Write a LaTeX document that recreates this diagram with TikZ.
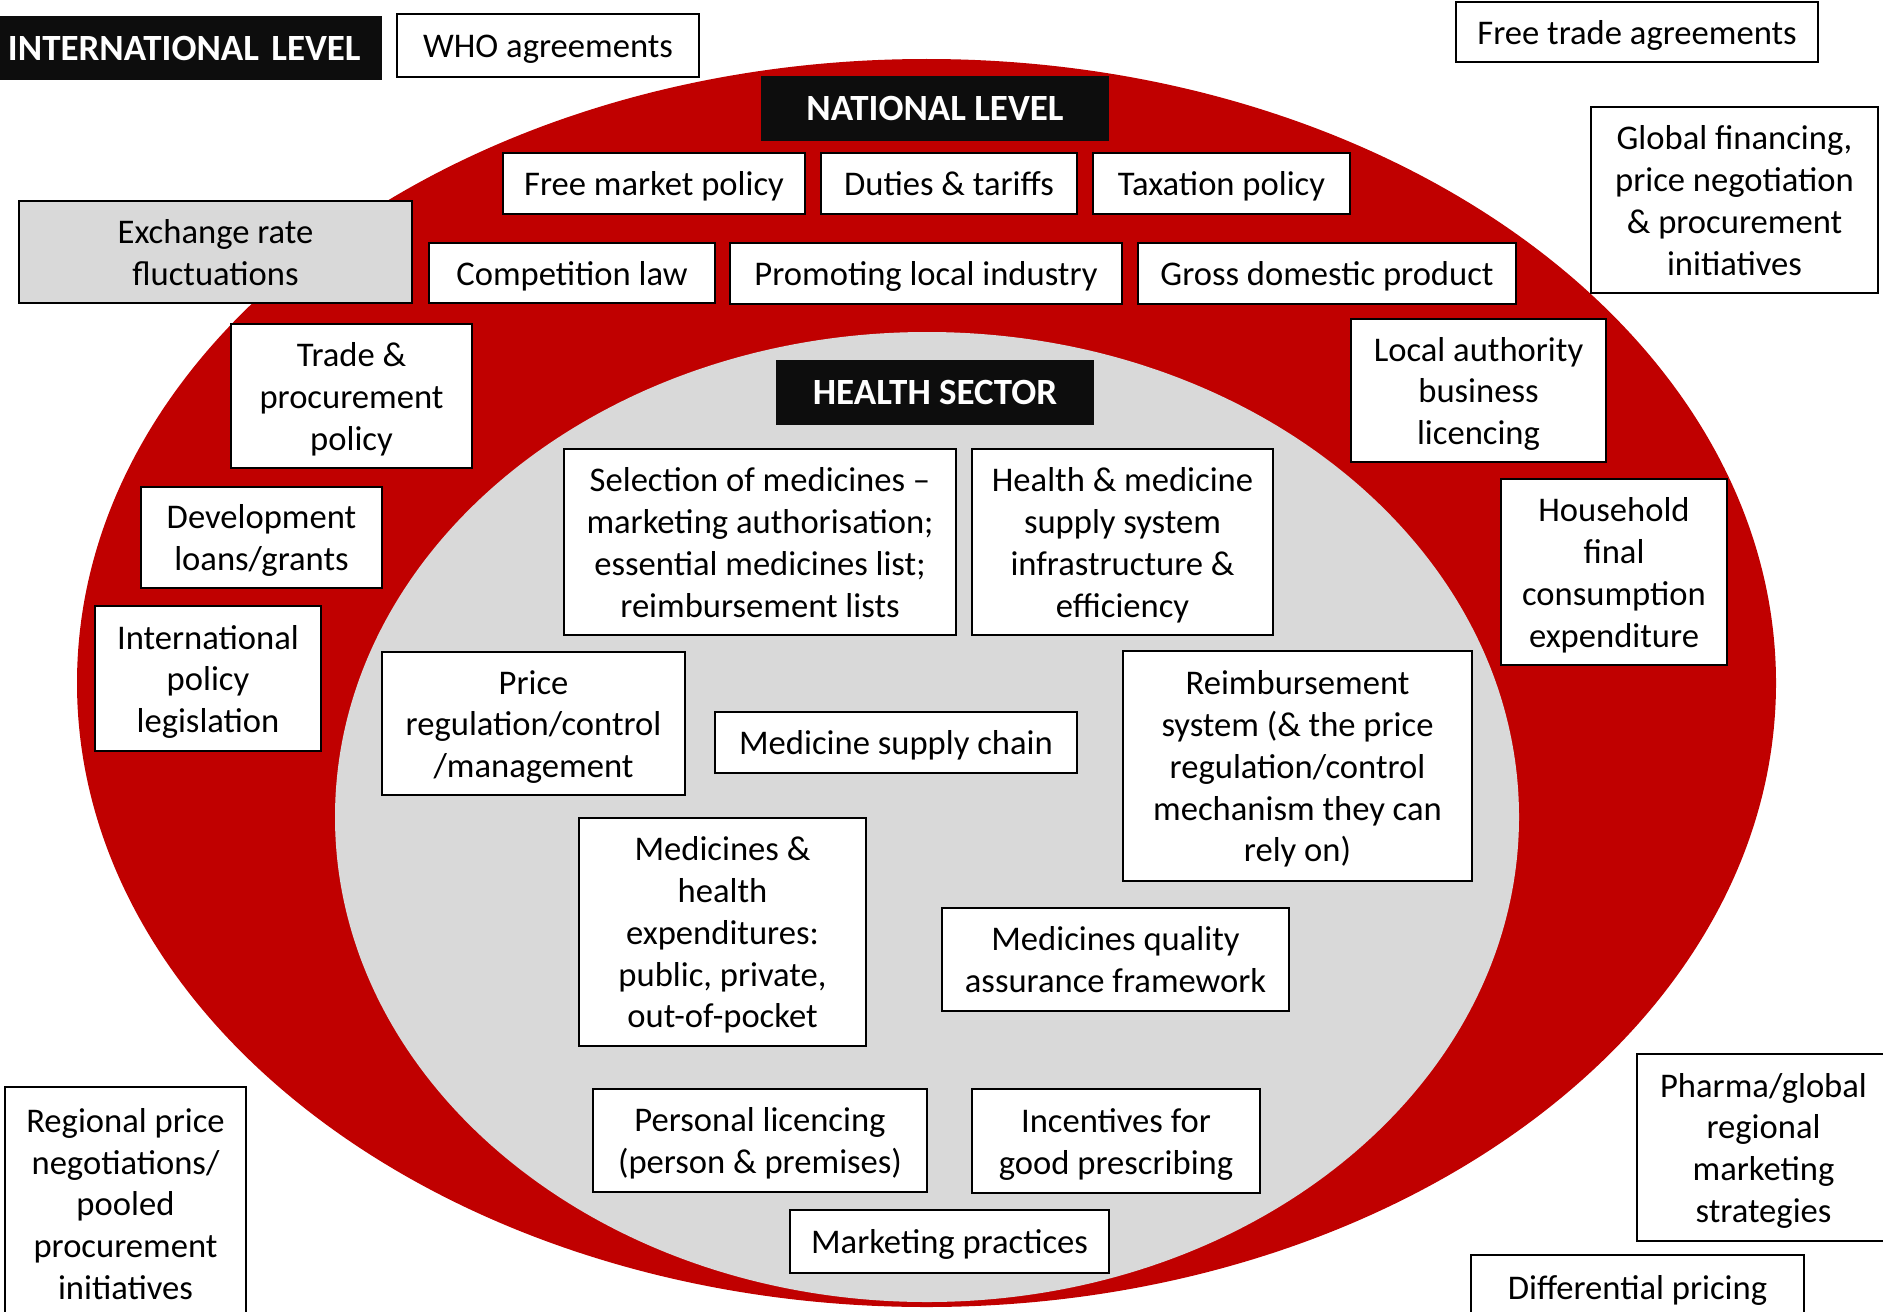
\documentclass[tikz,border=0pt]{standalone}
\usepackage{fontspec}
\setmainfont{Carlito}
\definecolor{dred}{HTML}{C00000}
\definecolor{lgrey}{HTML}{D9D9D9}
\definecolor{nblack}{HTML}{0D0D0D}
\tikzset{
  box/.style={draw=black, line width=1pt, fill=white, align=center, inner sep=0pt,
    font=\fontsize{17.3}{20.9}\selectfont},
  greybox/.style={box, fill=lgrey},
  headbox/.style={fill=nblack, text=white, align=center, inner sep=0pt,
    font=\fontsize{18.5}{22}\selectfont\bfseries},
}
\newcommand\topstr{\rule{0pt}{16.6pt}}
\newcommand\botstr{\rule[-4.3pt]{0pt}{4.3pt}}
\newcommand\htopstr{\rule{0pt}{17.2pt}}
\newcommand\hbotstr{\rule[-4.8pt]{0pt}{4.8pt}}
% #1 style, #2 name, #3 cx, #4 cy, #5 w, #6 h, #7 text (all in px of the reference)
\newcommand\pbox[7]{%
  \node[#1, minimum width=#5*0.5pt, minimum height=#6*0.5pt] (#2) at (#3,#4) {\topstr #7\botstr};}
\newcommand\headnode[6]{%
  \node[headbox, minimum width=#4*0.5pt, minimum height=#5*0.5pt] (#1) at (#2,#3) {\htopstr #6\hbotstr};}
\begin{document}
\begin{tikzpicture}[x=0.5pt,y=-0.5pt]
\useasboundingbox (0,0) rectangle (1883,1311);
\clip (0,0) rectangle (1883,1311);
\fill[white] (0,0) rectangle (1883,1311);
% ellipses
\fill[dred] (926.5,683) ellipse [x radius=849.5, y radius=624];
\fill[lgrey] (927,817) ellipse [x radius=592, y radius=485];
% headers
\node[headbox, align=left, text width=366*0.5pt, inner xsep=4pt, minimum height=32pt] (intl) at (191,48) {\rule{0pt}{17.6pt}INTERNATIONAL LEVEL\hbotstr};
\headnode{nat}{935}{108.5}{348}{65}{NATIONAL LEVEL}
\headnode{hs}{935}{392.5}{318}{65}{HEALTH SECTOR}
% international level
\pbox{box}{who}{548}{45.5}{302}{63}{WHO agreements}
\pbox{box}{fta}{1637}{32}{362}{60}{Free trade agreements}
\pbox{box}{glob}{1734.5}{200}{287}{186}{Global financing,\\price negotiation\\\& procurement\\initiatives}
\pbox{greybox}{exch}{215.5}{252}{393}{102}{Exchange rate\\fluctuations}
\pbox{box}{reg}{125.5}{1203.5}{241}{233}{Regional price\\negotiations/\\pooled\\procurement\\initiatives}
\pbox{box}{pharma}{1763.5}{1147.5}{253}{187}{Pharma/global\\regional\\marketing\\strategies}
\pbox{box}{diff}{1637.5}{1287.5}{333}{65}{Differential pricing}
% national level
\pbox{box}{fmp}{654}{183.5}{302}{61}{Free market policy}
\pbox{box}{dut}{949}{183.5}{256}{61}{Duties \& tariffs}
\pbox{box}{tax}{1221.5}{183.5}{257}{61}{Taxation policy}
\pbox{box}{comp}{572}{273}{286}{60}{Competition law}
\pbox{box}{prom}{926}{273.5}{392}{61}{Promoting local industry}
\pbox{box}{gdp}{1327}{273.5}{378}{61}{Gross domestic product}
\pbox{box}{trade}{351.5}{396}{241}{144}{Trade \&\\procurement\\policy}
\pbox{box}{local}{1478.5}{390.5}{255}{143}{Local authority\\business\\licencing}
\pbox{box}{dev}{261.5}{537}{241}{101}{Development\\loans/grants}
\pbox{box}{house}{1614}{572}{226}{186}{Household\\final\\consumption\\expenditure}
\pbox{box}{ipl}{208}{678.5}{226}{145}{International\\policy\\legislation}
% health sector
\pbox{box}{sel}{760}{542}{392}{186}{Selection of medicines –\\marketing authorisation;\\essential medicines list;\\reimbursement lists}
\pbox{box}{hms}{1122.5}{542}{301}{186}{Health \& medicine\\supply system\\infrastructure \&\\efficiency}
\pbox{box}{price}{533.5}{723.5}{303}{143}{Price\\regulation/control\\/management}
\pbox{box}{msc}{896}{742.5}{362}{61}{Medicine supply chain}
\pbox{box}{reimb}{1297.5}{766}{349}{230}{Reimbursement\\system (\& the price\\regulation/control\\mechanism they can\\rely on)}
\pbox{box}{medexp}{722.5}{932}{287}{228}{Medicines \&\\health\\expenditures:\\public, private,\\out-of-pocket}
\pbox{box}{qa}{1115.5}{959.5}{347}{103}{Medicines quality\\assurance framework}
\pbox{box}{pers}{760}{1140.5}{334}{103}{Personal licencing\\(person \& premises)}
\pbox{box}{inc}{1116}{1141}{288}{104}{Incentives for\\good prescribing}
\pbox{box}{mkt}{949.5}{1241.5}{319}{63}{Marketing practices}
\end{tikzpicture}
\end{document}
